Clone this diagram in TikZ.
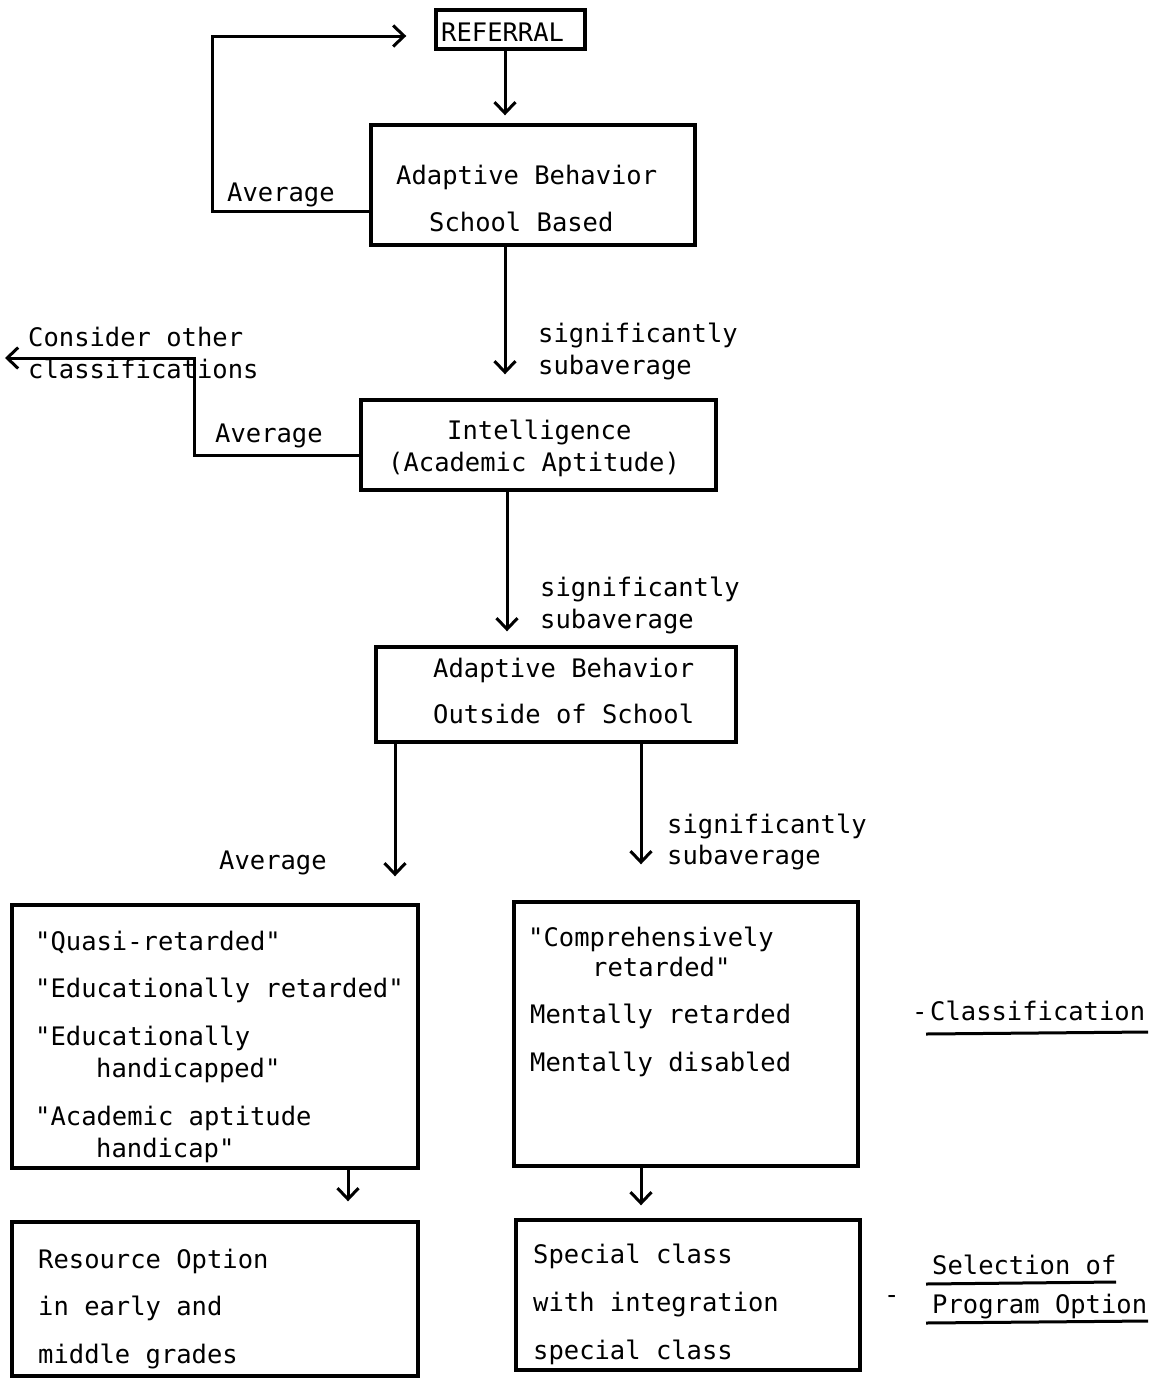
\documentclass[tikz,border=0pt]{standalone}
\usepackage{fontspec}
\setmonofont{DejaVu Sans Mono}
\usetikzlibrary{arrows.meta}
\begin{document}
\begin{tikzpicture}[x=1pt,y=-1pt,
  box/.style={draw,line width=3.4pt,inner sep=0pt,anchor=center},
  txt/.style={anchor=base west,inner sep=0pt,font=\ttfamily\fontsize{25.5pt}{32pt}\selectfont},
  arr/.style={line width=3pt,-{Straight Barb[length=11pt,width=21pt,line width=3pt]}},
  uline/.style={line width=3pt}]
\useasboundingbox (0,0) rectangle (1159,1379);
% boxes
\node[box,minimum width=149pt,minimum height=39pt] (ref) at (510.5,29.5) {};
\node[box,minimum width=324pt,minimum height=120pt] (ab1) at (533,185) {};
\node[box,minimum width=355pt,minimum height=90pt] (intel) at (538.5,445) {};
\node[box,minimum width=360pt,minimum height=95pt] (ab2) at (556,694.5) {};
\node[box,minimum width=406pt,minimum height=263pt] (cl1) at (215,1036.5) {};
\node[box,minimum width=344pt,minimum height=264pt] (cl2) at (686,1034) {};
\node[box,minimum width=406pt,minimum height=154pt] (po1) at (215,1299) {};
\node[box,minimum width=344pt,minimum height=150pt] (po2) at (688,1295) {};
% texts
\node[txt] (tref) at (441,41) {REFERRAL};
\node[txt] (t1a) at (396,184) {Adaptive Behavior};
\node[txt] (t1b) at (429,231) {School Based};
\node[txt] (tav1) at (227,201) {Average};
\node[txt] (ts1a) at (538,342) {significantly};
\node[txt] (ts1b) at (538,374) {subaverage};
\node[txt] (tco1) at (28,346) {Consider other};
\node[txt] (tco2) at (28,378) {classifications};
\node[txt] (tav2) at (215,442) {Average};
\node[txt] (t2a) at (447,439) {Intelligence};
\node[txt] (t2b) at (388,471) {(Academic Aptitude)};
\node[txt] (ts2a) at (540,596) {significantly};
\node[txt] (ts2b) at (540,628) {subaverage};
\node[txt] (t3a) at (433,677) {Adaptive Behavior};
\node[txt] (t3b) at (433,723) {Outside of School};
\node[txt] (tav3) at (219,869) {Average};
\node[txt] (ts3a) at (667,833) {significantly};
\node[txt] (ts3b) at (667,864) {subaverage};
\node[txt] (c1a) at (35,950) {"Quasi-retarded"};
\node[txt] (c1b) at (35,997) {"Educationally retarded"};
\node[txt] (c1c) at (35,1045) {"Educationally};
\node[txt] (c1d) at (96,1077) {handicapped"};
\node[txt] (c1e) at (35,1125) {"Academic aptitude};
\node[txt] (c1f) at (96,1157) {handicap"};
\node[txt] (c2a) at (528,946) {"Comprehensively};
\node[txt] (c2b) at (592,976) {retarded"};
\node[txt] (c2c) at (530,1023) {Mentally retarded};
\node[txt] (c2d) at (530,1071) {Mentally disabled};
\node[txt] (p1a) at (38,1268) {Resource Option};
\node[txt] (p1b) at (38,1315) {in early and};
\node[txt] (p1c) at (38,1363) {middle grades};
\node[txt] (p2a) at (533,1263) {Special class};
\node[txt] (p2b) at (533,1311) {with integration};
\node[txt] (p2c) at (533,1359) {special class};
\node[txt] (dash1) at (912,1020) {-};
\node[txt] (tcls) at (930,1020) {Classification};
\node[txt] (dash2) at (884,1303) {-};
\node[txt] (tsel) at (932,1274) {Selection of};
\node[txt] (tprog) at (932,1313) {Program Option};
\draw[uline] (926,1034) -- (1148,1032);
\draw[uline] (926,1284) -- (1116,1282);
\draw[uline] (926,1323) -- (1148,1321);
% coordinates
\coordinate (loopc) at (212,36);
\coordinate (consc) at (194,358);
\coordinate (consend) at (5,358);
% connectors
\draw[arr,shorten >=8pt] ([xshift=-5.5pt]ref.south) -- ([xshift=-5.5pt]ref.south |- ab1.north);
\draw[arr] ([yshift=-26pt]ab1.west) -| (loopc) -- ([xshift=-28pt]ref.west |- loopc);
\draw[arr,shorten >=24pt] ([xshift=-28pt]ab1.south) -- ([xshift=-28pt]ab1.south |- intel.north);
\draw[arr] ([yshift=-10pt]intel.west) -| (consc) -- (consend);
\draw[arr,shorten >=14pt] ([xshift=-31.5pt]intel.south) -- ([xshift=-31.5pt]intel.south |- ab2.north);
\draw[arr,shorten >=27pt] (ab2.south -| 395,0) -- (cl1.north -| 395,0);
\draw[arr,shorten >=36pt] (ab2.south -| 641,0) -- (cl2.north -| 641,0);
\draw[arr,shorten >=19pt] (cl1.south -| 348,0) -- (po1.north -| 348,0);
\draw[arr,shorten >=13pt] (cl2.south -| 641,0) -- (po2.north -| 641,0);
\end{tikzpicture}
\end{document}
